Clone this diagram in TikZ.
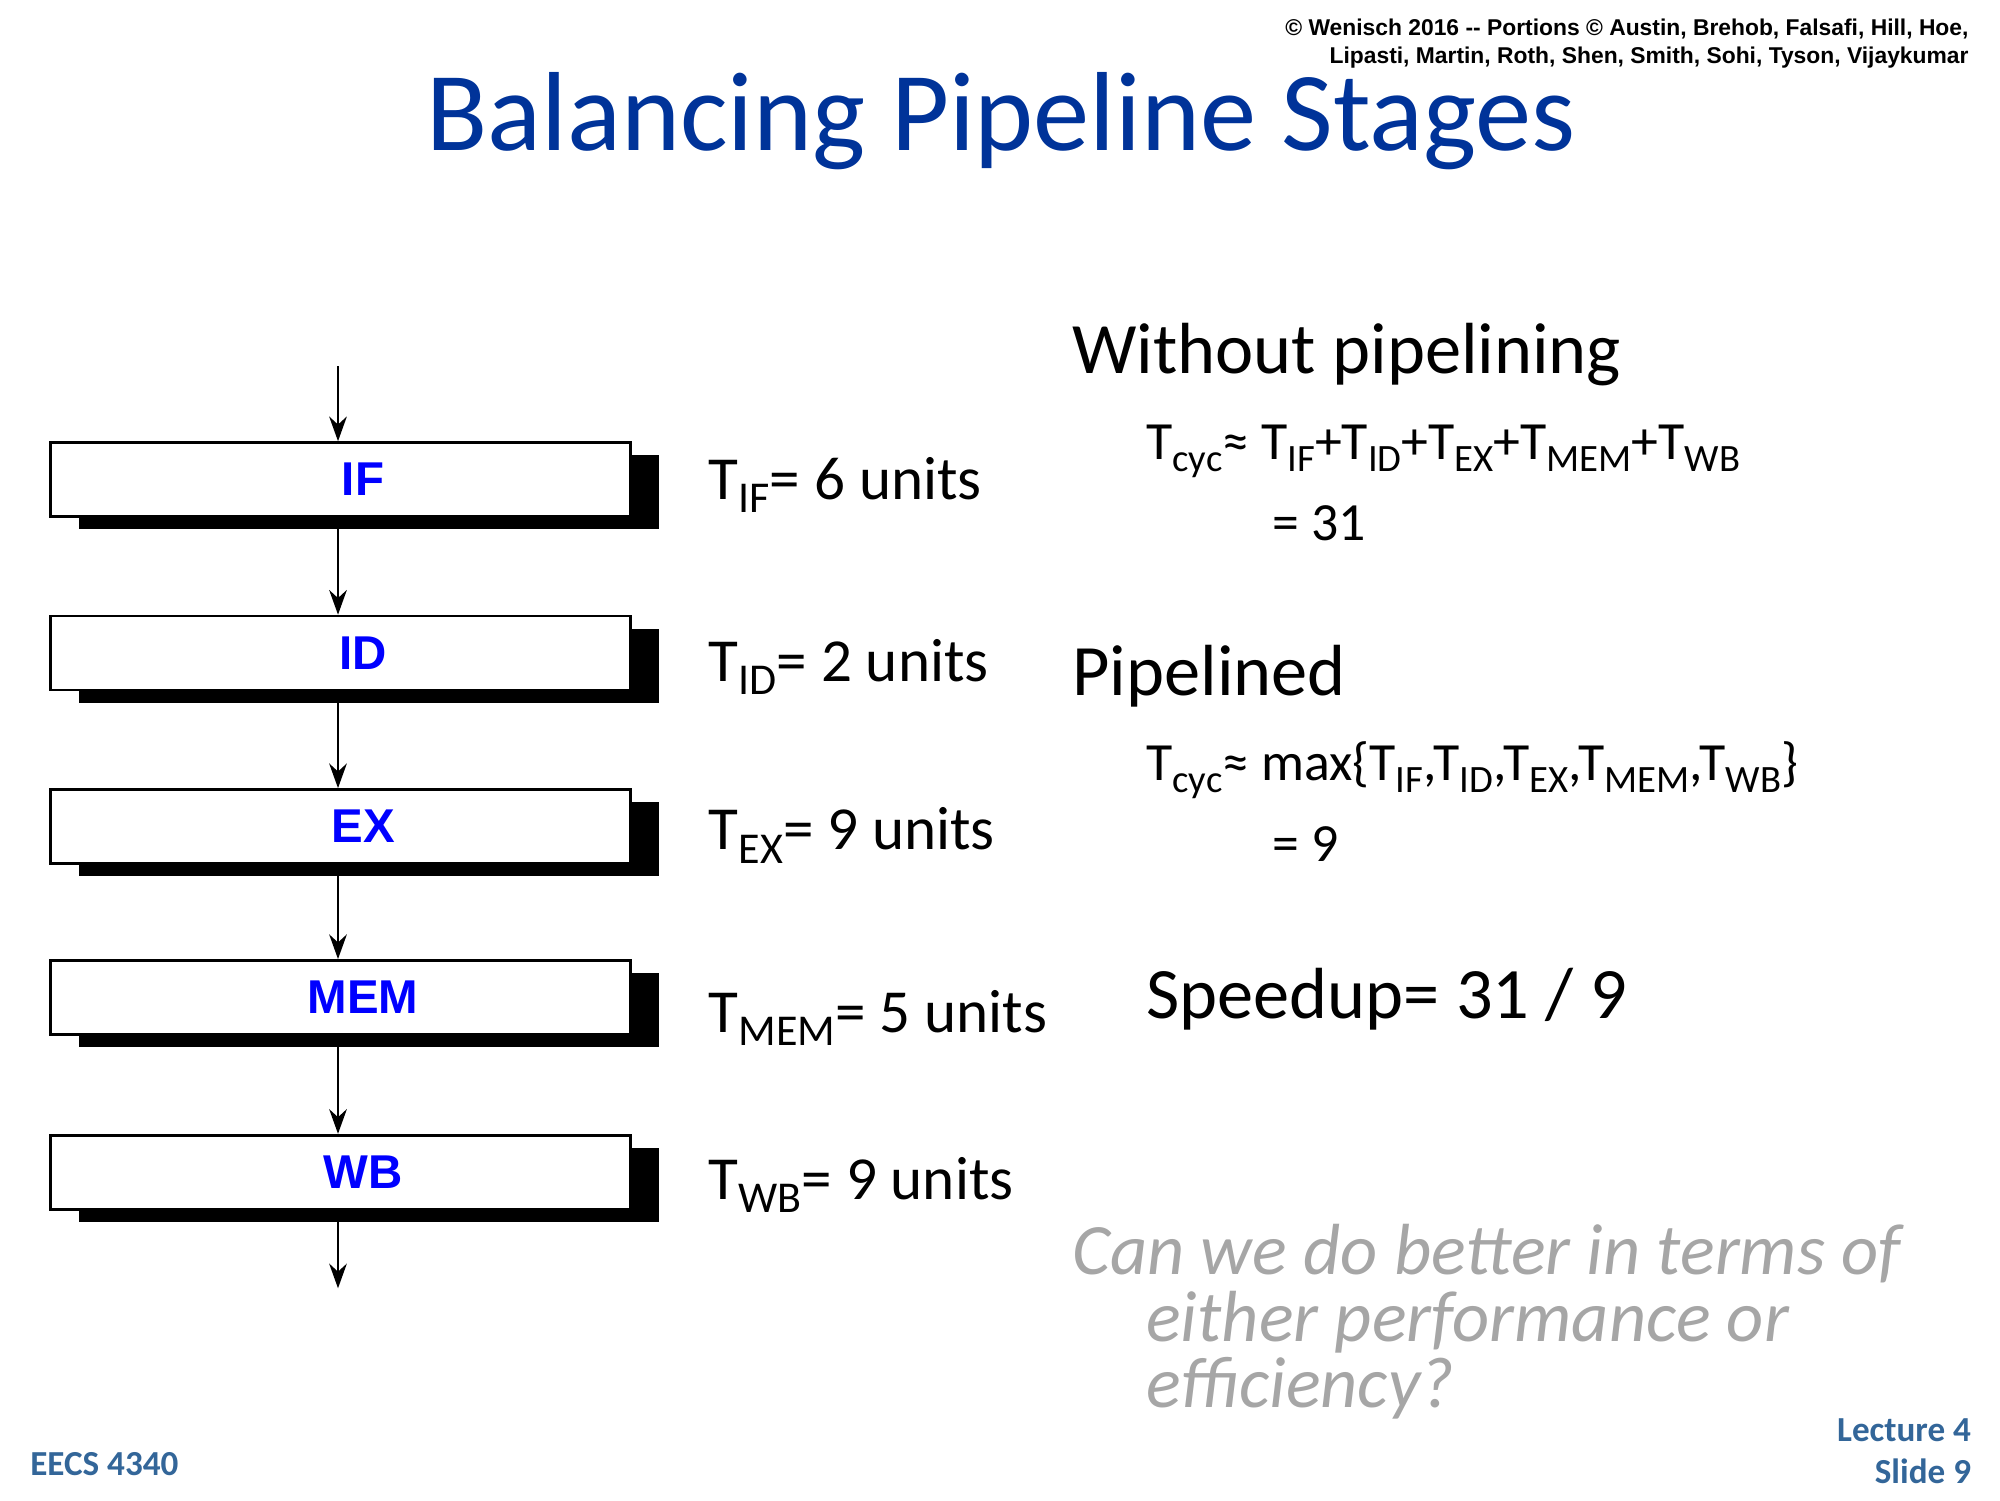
\documentclass[tikz,border=0pt]{standalone}
\usepackage{fontspec}
\setmainfont{Carlito}
\newfontfamily\arialf{Liberation Sans}
\usetikzlibrary{arrows.meta}

\definecolor{titleblue}{RGB}{0,51,153}
\definecolor{footblue}{RGB}{51,102,153}
\definecolor{stageblue}{RGB}{0,0,255}

\newcommand{\lo}[1]{\raisebox{-0.45ex}{\scalebox{0.72}{#1}}}

\begin{document}
\begin{tikzpicture}[x=0.01276cm, y=-0.01276cm,
  stagebox/.style={draw, thick, fill=white, minimum width=455*0.01276cm, minimum height=58*0.01276cm, inner sep=0, font=\arialf\bfseries\fontsize{13.5}{15}\selectfont, text=stageblue},
  shade/.style={fill=black},
  flow/.style={-{Stealth[length=7pt,width=5pt]}, thick},
  tlabel/.style={anchor=west, font=\fontsize{17.4}{20}\selectfont},
  eqn/.style={anchor=west, font=\fontsize{15.3}{18}\selectfont},
  heading/.style={anchor=west, font=\fontsize{20.6}{24}\selectfont}]

\useasboundingbox (0,0) rectangle (1568,1176);

% header
\node[anchor=north east, align=right, font=\arialf\bfseries\fontsize{6.5}{8}\selectfont] (copy) at (1553,5)
  {© Wenisch 2016 -- Portions © Austin, Brehob, Falsafi, Hill, Hoe,\\Lipasti, Martin, Roth, Shen, Smith, Sohi, Tyson, Vijaykumar};
\node[text=titleblue, font=\fontsize{32}{38}\selectfont] (title) at (785,95) {Balancing Pipeline Stages};

% stages
\coordinate (in) at (265,287);
\coordinate (out) at (265,1010);
\foreach \name/\y in {IF/376, ID/512, EX/648, MEM/782, WB/919} {
  \fill[shade] (62,\y-19) rectangle (517,\y+39);
  \node[stagebox, text width=0pt] (\name) at (267,\y) {\hspace*{8\pgflinewidth}\makebox[0pt]{\name}};
}
\draw[flow] (in) -- (IF.north -| in);
\draw[flow] (IF.south -| in) -- (ID.north -| in);
\draw[flow] (ID.south -| in) -- (EX.north -| in);
\draw[flow] (EX.south -| in) -- (MEM.north -| in);
\draw[flow] (MEM.south -| in) -- (WB.north -| in);
\draw[flow] (WB.south -| in) -- (out);

% stage delays
\node[tlabel] (tif) at (546,380) {T\lo{IF}= 6 units};
\node[tlabel] (tid) at (546,523) {T\lo{ID}= 2 units};
\node[tlabel] (tex) at (546,655) {T\lo{EX}= 9 units};
\node[tlabel] (tmem) at (546,798) {T\lo{MEM}= 5 units};
\node[tlabel] (twb) at (546,929) {T\lo{WB}= 9 units};

% right column
\node[heading] (nopipe) at (831,278) {Without pipelining};
\node[eqn] (eq1) at (889,354) {T\lo{cyc}≈ T\lo{IF}+T\lo{ID}+T\lo{EX}+T\lo{MEM}+T\lo{WB}};
\node[eqn] (eq1b) at (988,410) {= 31};
\node[heading] (pipe) at (831,530) {Pipelined};
\node[eqn] (eq2) at (889,604) {T\lo{cyc}≈ max\{T\lo{IF},T\lo{ID},T\lo{EX},T\lo{MEM},T\lo{WB}\}};
\node[eqn] (eq2b) at (988,662) {= 9};
\node[heading] (speed) at (889,783) {Speedup= 31 / 9};
\node[anchor=north west, align=left, text=black!35, font=\itshape\fontsize{20.6}{19}\selectfont] (quest) at (831,950)
  {Can we do better in terms of\\\hspace*{0.74cm}either performance or\\\hspace*{0.74cm}efficiency?};

% footer
\node[anchor=west, text=footblue, font=\bfseries\fontsize{10}{12}\selectfont] (course) at (14,1148) {EECS 4340};
\node[anchor=east, align=right, text=footblue, font=\bfseries\fontsize{10}{12}\selectfont] (slide) at (1555,1138) {Lecture 4\\Slide 9};
\end{tikzpicture}
\end{document}
